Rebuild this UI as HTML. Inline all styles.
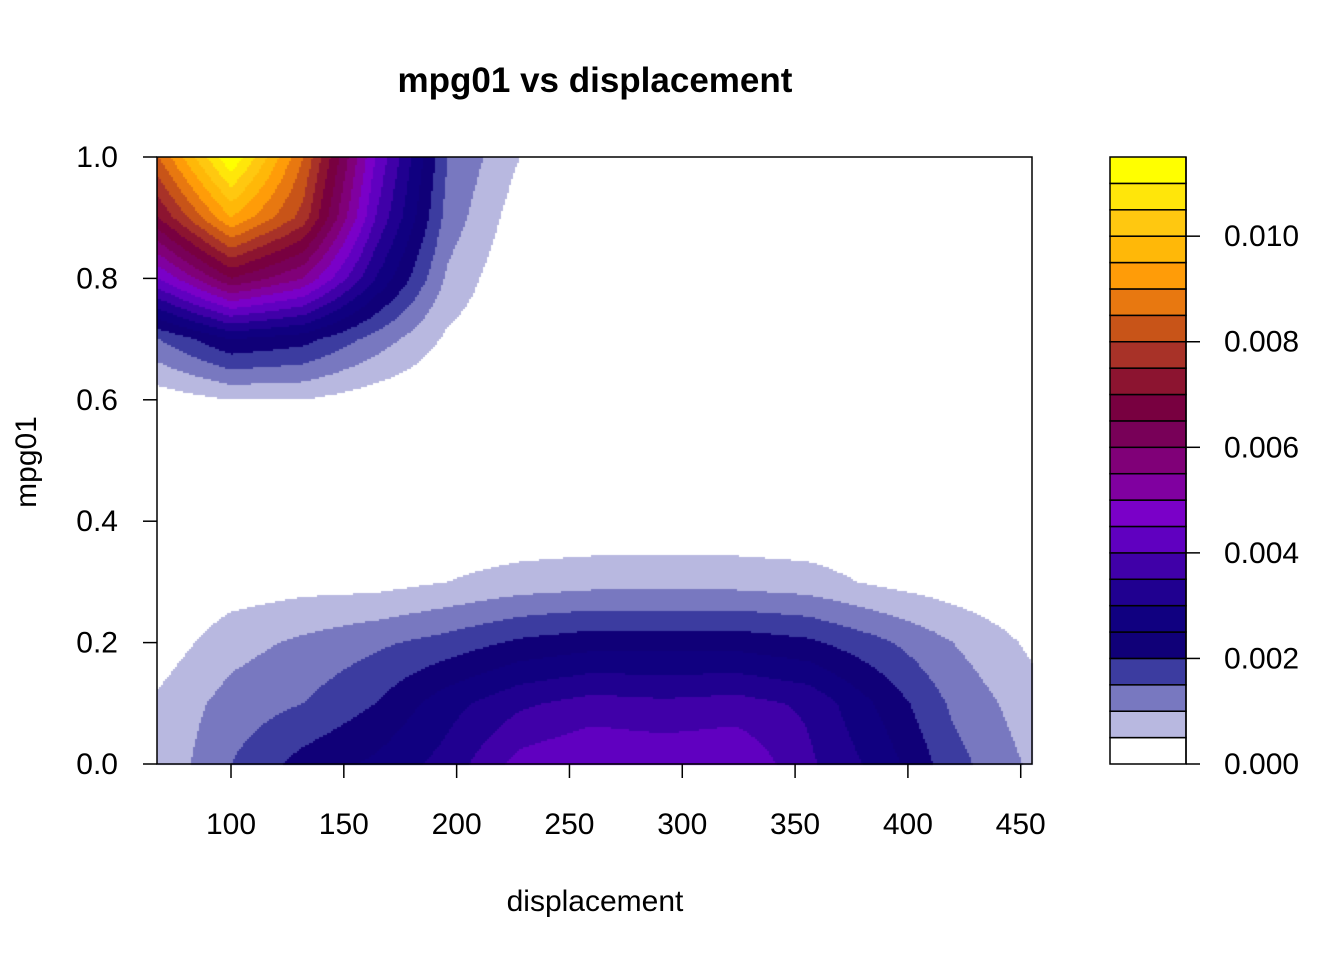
<!DOCTYPE html>
<html><head><meta charset="utf-8">
<style>
body{margin:0;background:#fff;font-family:"Liberation Sans",sans-serif;}
#wrap{position:relative;width:1344px;height:960px;}
canvas{position:absolute;left:0;top:0;}
</style></head>
<body>
<div id="wrap">
<canvas id="plot" width="1344" height="960"></canvas>
<svg id="ov" width="1344" height="960" style="position:absolute;left:0;top:0"></svg>
</div>
<script>
const xs=[68,100,132,164,196,228,260,292,324,356,388,420,455];
const ys=[0,0.1,0.2,0.3,0.4,0.5,0.6,0.7,0.8,0.9,1.0];
const densRow0=[0.0006,0.0015,0.0022,0.0026,0.0032,0.0042,0.0045,0.0044,0.0045,0.0036,0.0028,0.0017,0.0009];
const densRow1=[0.0006,0.0012,0.0015,0.002,0.0028,0.0034,0.0037,0.0036,0.0037,0.0034,0.0024,0.0014,0.0007];
const densRow2=[0.0002,0.0008,0.0011,0.0014,0.0017,0.0021,0.0023,0.0023,0.0023,0.0021,0.0016,0.001,0.0004];
const densRow3=[0.0,0.0002,0.0003,0.0003,0.0005,0.0007,0.0008,0.0008,0.0008,0.0007,0.0004,0.0002,0.0];
const densRow4=[0,0.0001,0.0001,0.0001,0.0001,0.0001,0.0001,0.0001,0.0001,0.0001,0.0001,0,0];
const densRow5=[0,0,0,0,0,0,0,0,0,0,0,0,0];
const densRow6=[0.0002,0.0005,0.0005,0.0002,0,0,0,0,0,0,0,0,0];
const densRow7=[0.0015,0.0025,0.0022,0.0013,0.0004,0,0,0,0,0,0,0,0];
const densRow8=[0.0045,0.0065,0.0055,0.003,0.0009,0,0,0,0,0,0,0,0];
const densRow9=[0.007,0.0095,0.0078,0.004,0.0013,0.0002,0,0,0,0,0,0,0];
const densRow10=[0.0085,0.0115,0.0085,0.0045,0.0015,0.0005,0,0,0,0,0,0,0];
const dens=[densRow0,densRow1,densRow2,densRow3,densRow4,densRow5,densRow6,densRow7,densRow8,densRow9,densRow10];
const xTicks=[100,150,200,250,300,350,400,450];
const yTicks=[0,0.2,0.4,0.6,0.8,1.0];
const levelTicks=[0,0.002,0.004,0.006,0.008,0.010];
const levelStep=0.0005, nLevels=23;
const colors=["#ffffff","#b8b8e0","#7878c0","#3c3ca0","#100078","#100080","#200090","#4000a8","#6000c0","#7a00c8","#8000a0","#800078","#780058","#780040","#8c1430","#a83228","#c85418","#e87810","#ff9c08","#ffb808","#ffc810","#ffe60a","#ffff00"];

const L=157,R=1032,T=157,B=764,X0=67.2,X1=455;
const sx=v=>L+(v-X0)/(X1-X0)*(R-L);
const sy=v=>B-v*(B-T);
function interp(x,y){
  let i=0;while(i<xs.length-2&&x>xs[i+1])i++;
  let j=0;while(j<ys.length-2&&y>ys[j+1])j++;
  let tx=Math.max(0,Math.min(1,(x-xs[i])/(xs[i+1]-xs[i])));
  let ty=Math.max(0,Math.min(1,(y-ys[j])/(ys[j+1]-ys[j])));
  return dens[j][i]*(1-tx)*(1-ty)+dens[j][i+1]*tx*(1-ty)+dens[j+1][i]*(1-tx)*ty+dens[j+1][i+1]*tx*ty;
}
const c=document.getElementById('plot').getContext('2d');
c.fillStyle='#fff';c.fillRect(0,0,1344,960);
const st=2;
for(let px=L;px<R;px+=st){for(let py=T;py<B;py+=st){
  const x=X0+(px+st/2-L)/(R-L)*(X1-X0), y=(B-py-st/2)/(B-T);
  const v=interp(x,y);
  let k=Math.min(nLevels-1,Math.max(0,Math.floor(v/levelStep)));
  c.fillStyle=colors[k];c.fillRect(px,py,st,st);
}}
const NS='http://www.w3.org/2000/svg';
const ov=document.getElementById('ov');
function mk(tag,attrs,name,text){const e=document.createElementNS(NS,tag);for(const k in attrs)e.setAttribute(k,attrs[k]);


if(text!==undefined)e.textContent=text;ov.appendChild(e);return e;}
mk('rect',{x:L,y:T,width:R-L,height:B-T,fill:'none',stroke:'#000','stroke-width':1.5},'plot-frame');
xTicks.forEach(t=>{const x=sx(t);mk('line',{x1:x,x2:x,y1:B,y2:B+14,stroke:'#000','stroke-width':1.5},'x-tick');
mk('text',{x:x,y:834,'font-size':30,'text-anchor':'middle'},'x-tick-label',String(t));});
yTicks.forEach(t=>{const y=sy(t);mk('line',{x1:L-14,x2:L,y1:y,y2:y,stroke:'#000','stroke-width':1.5},'y-tick');
mk('text',{x:118,y:y+10,'font-size':30,'text-anchor':'end'},'y-tick-label',t.toFixed(1));});
mk('text',{x:595,y:92,'font-size':35,'font-weight':'bold','text-anchor':'middle'},'chart-title','mpg01 vs displacement');
mk('text',{x:595,y:911,'font-size':30,'text-anchor':'middle'},'x-axis-title','displacement');
mk('text',{x:36,y:462,'font-size':30,'text-anchor':'middle',transform:'rotate(-90 36 462)'},'y-axis-title','mpg01');
const LX=1110,LW=76,lmax=nLevels*levelStep;
const ly=v=>B-v/lmax*(B-T);
colors.forEach((col,k)=>{mk('rect',{x:LX,y:ly((k+1)*levelStep),width:LW,height:ly(k*levelStep)-ly((k+1)*levelStep),fill:col,stroke:'#000','stroke-width':1.5},'legend-band');});
levelTicks.forEach(t=>{const y=ly(t);mk('line',{x1:LX+LW,x2:LX+LW+14,y1:y,y2:y,stroke:'#000','stroke-width':1.5},'legend-tick');
mk('text',{x:1224,y:y+10,'font-size':30},'legend-tick-label',t.toFixed(3));});
mk('line',{x1:LX+LW,x2:LX+LW,y1:T,y2:B,stroke:'#000','stroke-width':1.5},'legend-axis');
</script>
</body></html>
